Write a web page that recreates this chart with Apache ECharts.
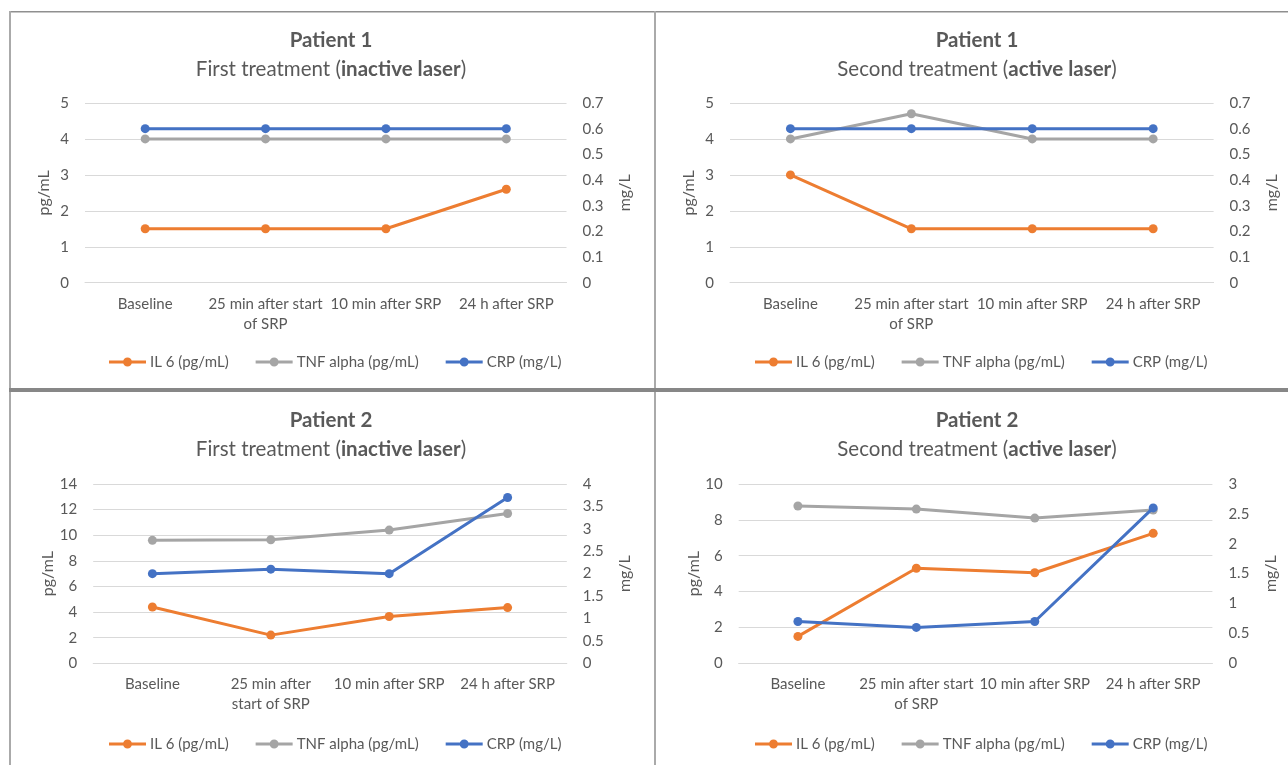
<!DOCTYPE html>
<html>
<head>
<meta charset="utf-8">
<script src="https://cdn.jsdelivr.net/npm/echarts@6/dist/echarts.min.js"></script>
<style>
html,body{margin:0;padding:0;background:#fff;}
#chart{width:1288px;height:765px;}
</style>
</head>
<body>
<div id="chart"></div>
<script>
// ---- Data ----
const categories = ['Baseline', '25 min after start of SRP', '10 min after SRP', '24 h after SRP'];
const seriesNames = ['IL 6 (pg/mL)', 'TNF alpha (pg/mL)', 'CRP (mg/L)'];

const p1First_il6 = [1.5, 1.5, 1.5, 2.6];
const p1First_tnf = [4, 4, 4, 4];
const p1First_crp = [0.6, 0.6, 0.6, 0.6];

const p1Second_il6 = [3.0, 1.5, 1.5, 1.5];
const p1Second_tnf = [4, 4.7, 4, 4];
const p1Second_crp = [0.6, 0.6, 0.6, 0.6];

const p2First_il6 = [4.4, 2.2, 3.65, 4.35];
const p2First_tnf = [9.6, 9.65, 10.4, 11.7];
const p2First_crp = [2.0, 2.1, 2.0, 3.7];

const p2Second_il6 = [1.5, 5.3, 5.05, 7.25];
const p2Second_tnf = [8.77, 8.6, 8.1, 8.55];
const p2Second_crp = [0.7, 0.6, 0.7, 2.6];

// axis ranges: [max, interval]
const leftAxes = [[5, 1], [5, 1], [14, 2], [10, 2]];
const rightAxes = [[0.7, 0.1], [0.7, 0.1], [4, 0.5], [3, 0.5]];

const titles = ['Patient 1', 'Patient 1', 'Patient 2', 'Patient 2'];
const subtitles = [
  'First treatment ({b|inactive laser})',
  'Second treatment ({b|active laser})',
  'First treatment ({b|inactive laser})',
  'Second treatment ({b|active laser})'
];

// ---- Layout ----
const panels = [
  { data: [p1First_il6, p1First_tnf, p1First_crp], grid: { left: 85, top: 103, width: 481.5, height: 179.7 }, cx: 331, titleTop: 28, legendLeft: 109, legendTop: 354.5, wrap: v => v.replace(' of SRP', '\nof SRP') },
  { data: [p1Second_il6, p1Second_tnf, p1Second_crp], grid: { left: 730, top: 103, width: 483.6, height: 179.7 }, cx: 977, titleTop: 28, legendLeft: 755, legendTop: 354.5, wrap: v => v.replace(' of SRP', '\nof SRP') },
  { data: [p2First_il6, p2First_tnf, p2First_crp], grid: { left: 93.2, top: 484, width: 473.6, height: 179.3 }, cx: 331, titleTop: 408, legendLeft: 109, legendTop: 736.5, wrap: v => v.replace(' start of', '\nstart of') },
  { data: [p2Second_il6, p2Second_tnf, p2Second_crp], grid: { left: 738.7, top: 484, width: 473.7, height: 179.3 }, cx: 977, titleTop: 408, legendLeft: 755, legendTop: 736.5, wrap: v => v.replace(' of SRP', '\nof SRP') }
];

const colors = ['#ED7D31', '#A5A5A5', '#4472C4'];
const FONT = 'Lato';
const TXT = '#595959';
// legend icon: thick line with a dot in the middle (37 x 9)
const LEGEND_ICON = 'path://M0,3L14.2,3L14.2,6L0,6Z M22.8,3L37,3L37,6L22.8,6Z M14,4.5A4.5,4.5 0 1 1 23,4.5A4.5,4.5 0 1 1 14,4.5Z';

const option = {
  animation: false,
  backgroundColor: '#ffffff',
  textStyle: { fontFamily: FONT },
  title: [], legend: [], grid: [], xAxis: [], yAxis: [], series: [],
  graphic: [
    { type: 'rect', shape: { x: 9, y: 11, width: 1279, height: 1.5 }, style: { fill: '#8f8f8f' }, z: 100 },
    { type: 'rect', shape: { x: 9, y: 11, width: 2, height: 754 }, style: { fill: '#aaaaaa' }, z: 100 },
    { type: 'rect', shape: { x: 654, y: 11, width: 2, height: 754 }, style: { fill: '#aaaaaa' }, z: 100 },
    { type: 'rect', shape: { x: 9, y: 388, width: 1279, height: 4 }, style: { fill: '#878787' }, z: 101 }
  ]
};

panels.forEach((p, i) => {
  option.title.push({
    text: titles[i],
    subtext: subtitles[i],
    left: p.cx,
    top: p.titleTop,
    textAlign: 'center',
    itemGap: 5,
    padding: 0,
    textStyle: { fontFamily: FONT, fontSize: 20.5, fontWeight: 'bold', color: TXT, lineHeight: 24 },
    subtextStyle: {
      fontFamily: FONT, fontSize: 20.5, color: TXT, lineHeight: 24,
      rich: { b: { fontFamily: FONT, fontSize: 20.5, fontWeight: 'bold', color: TXT, lineHeight: 24 } }
    }
  });
  option.legend.push({
    data: seriesNames.map(n => ({ name: n, icon: LEGEND_ICON })),
    left: p.legendLeft,
    top: p.legendTop,
    orient: 'horizontal',
    itemWidth: 37,
    itemHeight: 9,
    itemGap: 27,
    padding: 0,
    selectedMode: false,
    textStyle: { fontFamily: FONT, fontSize: 15, color: TXT, padding: [0, 0, 0, -1] }
  });
  option.grid.push(Object.assign({ containLabel: false }, p.grid));
  option.xAxis.push({
    type: 'category',
    gridIndex: i,
    data: categories,
    boundaryGap: true,
    axisLine: { show: true, lineStyle: { color: '#D9D9D9', width: 1 } },
    axisTick: { show: false },
    axisLabel: {
      interval: 0, margin: 11, fontFamily: FONT, fontSize: 15, color: TXT, lineHeight: 20,
      formatter: p.wrap
    }
  });
  option.yAxis.push({
    type: 'value',
    gridIndex: i,
    position: 'left',
    min: 0, max: leftAxes[i][0], interval: leftAxes[i][1],
    name: 'pg/mL', nameLocation: 'middle', nameRotate: 90, nameGap: 33,
    nameTextStyle: { fontFamily: FONT, fontSize: 16, color: TXT },
    axisLine: { show: false }, axisTick: { show: false },
    axisLabel: { margin: 16, fontFamily: FONT, fontSize: 15, color: TXT },
    splitLine: { show: true, lineStyle: { color: '#D9D9D9', width: 1 } }
  });
  option.yAxis.push({
    type: 'value',
    gridIndex: i,
    position: 'right',
    min: 0, max: rightAxes[i][0], interval: rightAxes[i][1],
    alignTicks: false,
    name: 'mg/L', nameLocation: 'middle', nameRotate: 90, nameGap: 50,
    nameTextStyle: { fontFamily: FONT, fontSize: 16, color: TXT },
    axisLine: { show: false }, axisTick: { show: false },
    axisLabel: { margin: 16, fontFamily: FONT, fontSize: 15, color: TXT },
    splitLine: { show: false }
  });
  seriesNames.forEach((name, k) => {
    option.series.push({
      type: 'line',
      name: name,
      xAxisIndex: i,
      yAxisIndex: k === 2 ? i * 2 + 1 : i * 2,
      data: p.data[k],
      symbol: 'circle',
      symbolSize: 9,
      lineStyle: { color: colors[k], width: 3 },
      itemStyle: { color: colors[k] },
      color: colors[k],
      z: 2 + k
    });
  });
});

const chart = echarts.init(document.getElementById('chart'), null, { renderer: 'canvas' });
chart.setOption(option);
</script>
</body>
</html>
